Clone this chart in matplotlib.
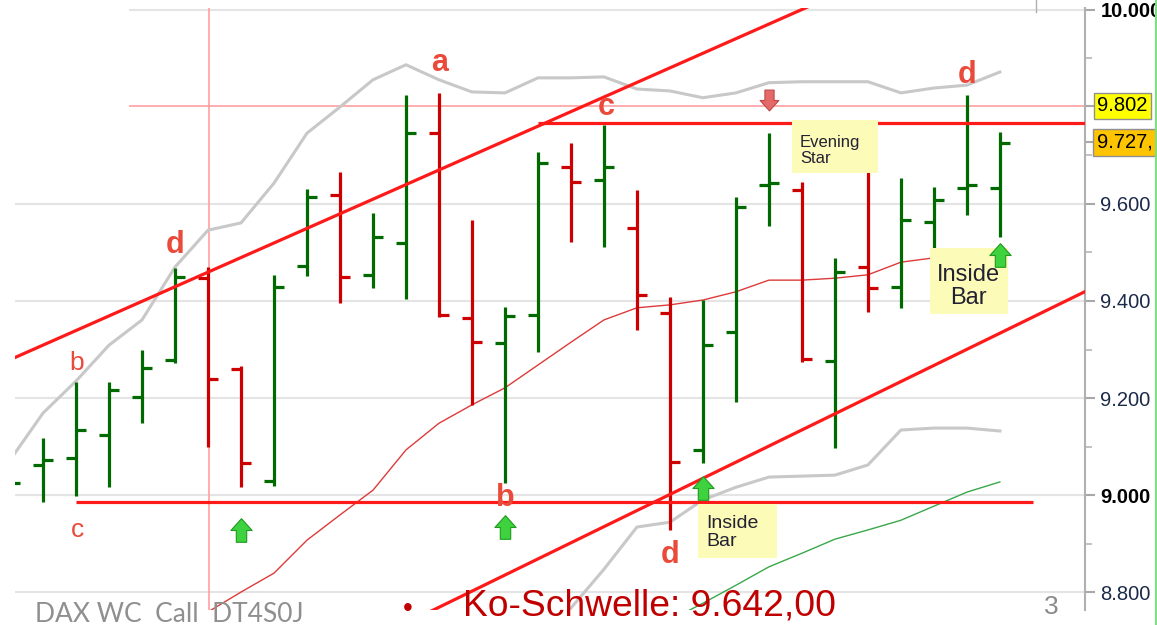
"""DAX weekly OHLC with channel, bands and pattern notes"""
import numpy as np
import matplotlib
matplotlib.use('Agg')
import matplotlib.pyplot as plt
from matplotlib.path import Path
from matplotlib.patches import Rectangle
from matplotlib.lines import Line2D

plt.rcParams['font.family'] = ['Liberation Sans', 'DejaVu Sans']

#%% data
bar_idx = list(range(-1, 30))
opens = [9010, 9062, 9076, 9124, 9202, 9278, 9447, 9260, 9029, 9472, 9619, 9454, 9520, 9746, 9365, 9313,
         9371, 9676, 9649, 9551, 9375, 9093, 9336, 9640, 9629, 9276, 9470, 9429, 9563, 9633, 9633]
highs = [9070, 9118, 9233, 9233, 9299, 9468, 9470, 9266, 9454, 9631, 9666, 9581, 9825, 9829, 9567, 9388,
         9707, 9726, 9763, 9629, 9408, 9402, 9614, 9746, 9645, 9489, 9666, 9654, 9635, 9825, 9748]
lows = [8985, 8986, 8998, 9016, 9148, 9272, 9099, 9016, 9019, 9452, 9396, 9427, 9404, 9367, 9186, 9025,
        9295, 9522, 9511, 9340, 8928, 9066, 9192, 9555, 9274, 9097, 9377, 9386, 9398, 9577, 9532]
closes = [9025, 9072, 9134, 9217, 9262, 9450, 9239, 9066, 9429, 9614, 9450, 9532, 9746, 9371, 9315, 9369,
          9685, 9645, 9676, 9412, 9068, 9309, 9594, 9644, 9280, 9460, 9427, 9567, 9608, 9639, 9726]

nan = np.nan
bb_upper = [9072, 9169, 9235, 9309, 9361, 9470, 9546, 9561, 9643, 9746, 9800, 9856, 9887, 9856, 9831, 9829,
            9860, 9860, 9862, 9837, 9833, 9819, 9829, 9850, 9852, 9852, 9852, 9829, 9839, 9845, 9872]
bb_mid = [nan] * 6 + [8759, 8800, 8839, 8907, 8959, 9010, 9093, 9148, 9186, 9221,
                      9268, 9315, 9361, 9386, 9392, 9402, 9419, 9443, 9443, 9447,
                      9454, 9480, 9489, 9491, 9501]
bb_lower = [nan] * 16 + [8690, 8767, 8847, 8934, 8944, 8990, 9016, 9037, 9039, 9041,
                         9062, 9134, 9138, 9138, 9132]
ma_green = [nan] * 20 + [8742, 8777, 8814, 8852, 8880, 8909, 8928, 8948, 8977, 9006, 9027]

# trend lines: [x0, x1], [y0, y1]
upper_chan_x, upper_chan_y = [-1, 24], [9279, 10031]
lower_chan_x, lower_chan_y = [11.5, 31.6], [8752, 9420]
support_x, support_y = [1, 30], [8986, 8986]
resist_x, resist_y = [15, 31.6], [9767, 9767]
cross_x, cross_y = 5.03, 9802
last_price = 9727

grid_levels = [8800, 9000, 9200, 9400, 9600, 10000]
minor_levels = [8900, 9100, 9300, 9500, 9700, 9900]

up_arrow_x = [6, 14, 20, 29]
up_arrow_y = [8928, 8934, 9014, 9495]
down_arrow_x = [22]
down_arrow_y = [9815]

letters = ['b', 'c', 'd', 'a', 'c', 'b', 'd', 'd']
letter_x = [1.03, 1.03, 4.0, 12.03, 17.06, 14.0, 19.0, 28.0]
letter_y = [9272, 8928, 9515, 9891, 9800, 8994, 8876, 9866]
letter_bold = [False, False, True, True, True, True, True, True]

#%% figure
W, H = 1157, 625
fig = plt.figure(figsize=(W / 100, H / 100), dpi=100)
ax = fig.add_axes([15 / W, 15 / H, 1070 / W, 602 / H])
ax.set_xlim(-0.85, 31.58)
ax.set_ylim(8763, 10004)

grid_col = '#e4e4e4'
ax.hlines(grid_levels[:-1], -0.85, 31.58, color=grid_col, lw=1.5, zorder=0)
ax.hlines(grid_levels[-1], 2.6, 31.58, color=grid_col, lw=1.5, zorder=0)

# crosshair
ax.axvline(cross_x, color='#ffa0a0', lw=1.2, zorder=1)
ax.hlines(cross_y, 2.6, 31.58, color='#ffa0a0', lw=1.2, zorder=1)

# bands
ax.plot(bar_idx, bb_upper, color='#c8c8c8', lw=2.2, zorder=2)
ax.plot(bar_idx, bb_lower, color='#c8c8c8', lw=2.2, zorder=2)
ax.plot(bar_idx, bb_mid, color='#dd3b3b', lw=1.0, zorder=2)
ax.plot(bar_idx, ma_green, color='#3aa84a', lw=1.0, zorder=2)

# ohlc bars
green, red = '#006a00', '#cc0000'
cols = [green if c >= o else red for o, c in zip(opens, closes)]
bx = np.array(bar_idx)
ax.vlines(bx, lows, highs, colors=cols, lw=2.3, zorder=3)
ax.hlines(opens, bx - 0.3, bx, colors=cols, lw=2.3, zorder=3)
ax.hlines(closes, bx, bx + 0.3, colors=cols, lw=2.3, zorder=3)

# channel / support / resistance
line_col = '#ff1a1a'
for lx, ly in [(upper_chan_x, upper_chan_y), (lower_chan_x, lower_chan_y),
               (support_x, support_y), (resist_x, resist_y)]:
    ax.plot(lx, ly, color=line_col, lw=2.3, zorder=4, solid_capstyle='butt')

# note boxes
notes = [((22.7, 9664), 2.6, 109, 'Evening\nStar', 12, 22.94, 9711, 'left'),
         ((26.88, 9373), 2.36, 136, 'Inside\nBar', 17, 28.05, 9430, 'center'),
         ((19.85, 8870), 2.39, 111, 'Inside\nBar', 14, 20.1, 8923, 'left')]
for (x0, y0), w, h, txt, fs, tx, ty, al in notes:
    ax.add_patch(Rectangle((x0, y0), w, h, facecolor='#fdfbb8', edgecolor='none', zorder=5))
    ax.text(tx, ty, txt, fontsize=fs, color='#222233', ha=al, va='center',
            multialignment=al, linespacing=1.1, zorder=6)

# arrows
verts = [(-0.22, -0.5), (0.22, -0.5), (0.22, 0.0), (0.45, 0.0), (0.0, 0.5),
         (-0.45, 0.0), (-0.22, 0.0), (-0.22, -0.5)]
arrow_up = Path(verts, closed=True)
arrow_down = Path([(x, -y) for x, y in verts], closed=True)
ax.plot(up_arrow_x, up_arrow_y, ls='none', marker=arrow_up, ms=17,
        mfc='#3fd23f', mec='#1f9a1f', mew=0.8, zorder=7)
ax.plot(down_arrow_x, down_arrow_y, ls='none', marker=arrow_down, ms=15,
        mfc='#e46a6a', mec='#c04848', mew=0.8, zorder=7)

# wave letters
for t, x, y, b in zip(letters, letter_x, letter_y, letter_bold):
    ax.text(x, y, t, color='#ea4a3a', fontsize=22 if b else 19,
            fontweight='bold' if b else 'normal', ha='center', va='center', zorder=8)

# right axis
for s in ['left', 'top', 'bottom']:
    ax.spines[s].set_visible(False)
ax.spines['right'].set_color('#b0b0b0')
ax.spines['right'].set_linewidth(1.5)
ax.set_xticks([])
ax.yaxis.tick_right()
ax.set_yticks(grid_levels + [cross_y, last_price])
ax.set_yticklabels([f'{v / 1000:.3f}' for v in grid_levels] + ['', ''])
ax.set_yticks(minor_levels, minor=True)
ax.tick_params(axis='y', which='major', direction='out', length=7, width=1.5, color='#a8a8a8',
               pad=4, labelsize=14.5, labelcolor='#1c2a4a')
ax.tick_params(axis='y', which='minor', direction='out', length=5, width=1.2, color='#b8b8b8')
for lab, v in zip(ax.get_yticklabels(), grid_levels):
    if v in (9000, 10000):
        lab.set_fontweight('bold')
        lab.set_color('black')

ytr = ax.get_yaxis_transform()
ax.text(1.0115, cross_y, '9.802', transform=ytr, fontsize=14.5, va='center', ha='left',
        bbox=dict(boxstyle='square,pad=0.15', fc='#ffff00', ec='#909090', lw=1))
ax.text(1.0115, last_price, '9.727,', transform=ytr, fontsize=14.5, va='center', ha='left',
        bbox=dict(boxstyle='square,pad=0.2', fc='#ffc400', ec='#909090', lw=1))

# slide footer
fig.text(35 / W, 1 - 622 / H, 'DAX WC  Call  DT4S0J', fontsize=19, color='#8f8f8f',
         family=['Lato', 'DejaVu Sans'], va='baseline')
fig.text(403 / W, 1 - 616 / H, '\u2022', fontsize=20, color='#c00000', va='baseline')
fig.text(463 / W, 1 - 616 / H, 'Ko-Schwelle: 9.642,00', fontsize=26.8, color='#c00000', va='baseline')
fig.text(1044 / W, 1 - 614 / H, '3', fontsize=19, color='#8a8a8a', va='baseline')
fig.add_artist(Line2D([1155.5 / W] * 2, [0, 1], color='#80e080', lw=1.5))
fig.add_artist(Line2D([1036 / W] * 2, [1 - 12 / H, 1], color='#b0b0b0', lw=1))

fig.savefig('out.png', dpi=100)
